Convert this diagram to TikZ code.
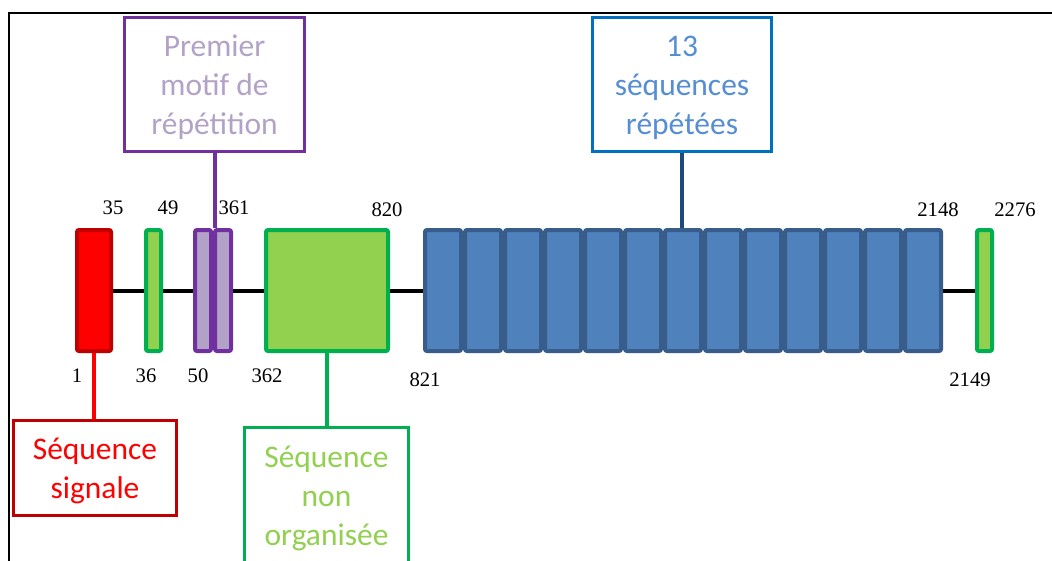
\documentclass[tikz,border=0pt]{standalone}
\usepackage{fontspec}
\setmainfont{Carlito}
\newfontfamily\numfont{Liberation Serif}
\definecolor{cRed}{HTML}{FF0000}
\definecolor{cRedD}{HTML}{C00000}
\definecolor{cGreen}{HTML}{92D050}
\definecolor{cGreenD}{HTML}{00B050}
\definecolor{cPurp}{HTML}{B3A2C7}
\definecolor{cPurpD}{HTML}{7030A0}
\definecolor{cBlue}{HTML}{4F81BD}
\definecolor{cBlueD}{HTML}{385D8A}
\definecolor{cBlueL}{HTML}{0070C0}
\definecolor{cBlueT}{HTML}{558ED5}
\definecolor{cBlueC}{HTML}{1F497D}
\tikzset{
  seg/.style 2 args={draw, line width=3pt, rounded corners=1.5pt, inner sep=0pt,
    minimum width=#1*0.75pt, minimum height=#2*0.75pt},
  redseg/.style={seg={34}{121}, fill=cRed, draw=cRedD},
  greenseg/.style={seg={#1}{121}, fill=cGreen, draw=cGreenD},
  purpseg/.style={seg={16}{121}, fill=cPurp, draw=cPurpD},
  blueseg/.style={seg={36}{121}, fill=cBlue, draw=cBlueD},
  lbl/.style 2 args={draw, line width=2.25pt, inner sep=0pt,
    minimum width=#1*0.75pt, minimum height=#2*0.75pt},
  lbltext/.style={inner sep=0pt, align=center, font=\fontsize{23.6}{29}\selectfont},
  num/.style={font=\numfont\fontsize{15.5}{16}\selectfont, inner sep=0pt},
  backbone/.style={line width=3pt, black},
  conn/.style={line width=3pt}
}
\begin{document}
\begin{tikzpicture}[x=0.75pt,y=-0.75pt]
\clip (0,0) rectangle (1052,560);
\fill[white] (0,0) rectangle (1052,560);
\draw[line width=1.5pt] (9,570) -- (9,13) -- (1060,13);

% segments
\node[redseg] (red) at (94,290.5) {};
\node[greenseg=15] (g1) at (153.5,290.5) {};
\node[purpseg] (pA) at (203,290.5) {};
\node[purpseg] (pB) at (223,290.5) {};
\node[greenseg=122] (big) at (327,290.5) {};
\foreach \k in {1,...,13} {
  \node[blueseg] (b\k) at ({403+40*\k},290.5) {};
}
\node[greenseg=15] (gend) at (984.5,290.5) {};

% backbone
\draw[backbone] (red.east) -- (g1.west);
\draw[backbone] (g1.east) -- (pA.west);
\draw[backbone] (pB.east) -- (big.west);
\draw[backbone] (big.east) -- (b1.west);
\draw[backbone] (b13.east) -- (gend.west);

% numbers
\node[num] (n35) at (113,208) {35};
\node[num] (n49) at (168,208) {49};
\node[num] (n361) at (234,208) {361};
\node[num] (n820) at (387,210) {820};
\node[num] (n2148) at (938,210) {2148};
\node[num] (n2276) at (1015,210) {2276};
\node[num] (n1) at (77,376) {1};
\node[num] (n36) at (146,376) {36};
\node[num] (n50) at (198,376) {50};
\node[num] (n362) at (267,376) {362};
\node[num] (n821) at (425,380) {821};
\node[num] (n2149) at (970,380) {2149};

% label boxes
\node[lbl={180}{134}, draw=cPurpD] (prem) at (214.5,84.5) {};
\node[lbltext, text=cPurp] (premt) at ([yshift=-2pt]prem.center) {Premier\\motif de\\répétition};
\node[lbl={179}{134}, draw=cBlueL] (rep) at (682,84.5) {};
\node[lbltext, text=cBlueT] (rept) at ([yshift=-2.5pt]rep.center) {13\\séquences\\répétées};
\node[lbl={163}{95}, draw=cRedD] (sig) at (95,468) {};
\node[lbltext, text=cRed] (sigt) at ([yshift=-2pt]sig.center) {Séquence\\signale};
\node[lbl={164}{140}, draw=cGreenD] (nonorg) at (326.5,497) {};
\node[lbltext, text=cGreen] (nonorgt) at ([yshift=-1pt]nonorg.center) {Séquence\\non\\organisée};

% connectors
\draw[conn, cPurpD] (prem.south) -- (prem.south |- pA.north);
\draw[conn, cBlueC] (rep.south) -- (rep.south |- b7.north);
\draw[conn, cRed] (red.south) -- (red.south |- sig.north);
\draw[conn, cGreenD] (big.south) -- (big.south |- nonorg.north);
\end{tikzpicture}
\end{document}
